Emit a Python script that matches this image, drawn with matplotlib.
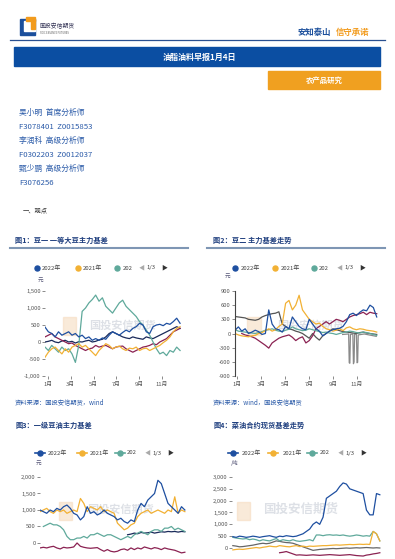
import numpy as np
import matplotlib
matplotlib.use("Agg")
import matplotlib.pyplot as plt
from matplotlib.lines import Line2D
from matplotlib.patches import Rectangle
from matplotlib.ticker import FuncFormatter

plt.rcParams['font.family'] = ['Noto Sans CJK SC', 'DejaVu Sans']

W, H = 395, 559

# ---- data ----
month_ticks = [1, 3, 5, 7, 9, 11]
month_labels = ['1月', '3月', '5月', '7月', '9月', '11月']
legend_labels = ['2022年', '2021年', '202']

c1_2022 = [440, 300, 250, 150, 300, 200, 250, 300, 200, 250, 150, 200, 100, 150, 50, 100, 50, 120, 80, 200,
           300, 250, 200, 280, 350, 300, 400, 450, 550, 500, 300, 250, 450, 500, 520, 480, 550, 520, 600, 700, 550]
c1_2021 = [-450, -300, -200, -150, -250, -350, -200, -300, -150, -100, -50, -150, -100, -200, -300, -400, -250,
           -150, -50, -100, -200, -150, -120, -200, -250, -180, -200, -150, -250, -200, -180, -250, -200, -150,
           -100, -20, 50, 150, 300, 400, 450]
c1_2020 = [-150, -250, -100, -200, -300, -150, -250, -200, -350, -600, -100, 900, 1000, 1150, 1250, 1380, 1200,
           1300, 1050, 950, 850, 1000, 1150, 1230, 1050, 950, 850, 750, 600, 500, 350, 200, 0, -200, -350, -300,
           -400, -250, -300, -150, -250]
c1_2019 = [150, 200, 250, 150, 100, 50, 0, -50, -30, -100, -150, -200, -250, -200, -180, -100, -150, -120, -100,
           -150, -200, -150, -130, -120, -200, -250, -300, -250, -200, -150, -130, -100, -50, -80, 0, 50, 100, 200,
           300, 350, 400]
c1_2018 = [0, 20, 50, 0, -20, 30, 50, 0, 20, -30, 10, 0, 30, 50, 0, 20, 60, 80, 150, 250, 300, 250, 200, 150,
           120, 100, 150, 120, 100, 80, 150, 120, 100, 150, 200, 250, 300, 350, 400, 450, 400]

c2_2022 = [70, 140, 50, 100, 0, 30, 70, 40, -20, 0, 500, 200, 100, 80, 30, 150, 100, 350, 250, 150, 100, 80, 300,
           200, 100, 50, -50, 0, 50, 80, 100, 110, 150, 250, 400, 430, 380, 450, 500, 480, 600, 550, 350]
c2_2021 = [0, -30, -50, -60, -70, -50, -40, 0, 20, 60, 100, 50, 80, 150, 200, 640, 700, 500, 600, 810, 500, 400,
           300, 250, 200, 220, 150, 100, 80, 50, 70, 100, 60, 120, 140, 100, 80, 100, 90, 70, 60, 50, 30]
c2_2020 = [80, 50, 40, 30, 20, 10, 0, 20, 40, 70, 80, 100, 70, 50, 40, 70, 90, 140, 100, 80, 60, 70, 100, 80, 60,
           40, 20, 30, 10, 0, -20, 0, 20, 30, 50, 40, 20, 10, 30, 20, 0, -20, -40]
c2_2019 = [np.nan, np.nan, 0, -30, -50, -70, -100, -150, -200, -250, -310, -200, -150, -100, -70, -50, -30, -80,
           -150, -100, -70, -200, -150, -50, 100, 150, 200, 250, 200, 250, 300, 280, 250, 300, 350, 380, 400, 420,
           450, 400, 450, 430, 420]
c2_2018 = [360, 350, 340, 330, 300, 290, 280, 300, 350, 380, 400, 420, 430, 460, 200, 150, 100, 80, 50, 30, 0, -50,
           -100, 0, -80, -140, -50, 0, 50, 100, 80, 60, 40, 30, 20, 10, 0, 20, 30, 10, 0, -10, -20]
c2_2017_months = [9.8, 10.3, 10.35, 10.4, 10.45, 10.65, 10.7, 10.75, 10.8, 10.95, 11.0, 11.05, 11.1, 11.6, 12.0, 12.6]
c2_2017 = [-20, -10, -620, -630, -20, -10, -640, -600, -10, -20, -620, -610, -30, -10, -30, -60]

c3_2022 = [1000, 950, 900, 1000, 950, 1050, 1000, 1100, 1150, 1050, 900, 850, 700, 800, 1100, 900, 950, 850, 900,
           1000, 900, 850, 800, 700, 750, 650, 600, 700, 650, 1000, 1200, 1100, 1300, 1400, 1500, 1900, 1800, 1500,
           1200, 1100, 1000, 900, 1100, 1000]
c3_2021 = [950, 1000, 1050, 950, 900, 1000, 950, 1000, 900, 950, 1000, 950, 1350, 1200, 950, 1100, 1050, 1000, 1100,
           950, 1000, 950, 900, 600, 500, 400, 450, 550, 600, 800, 900, 950, 1000, 900, 950, 1000, 950, 900, 1000,
           950, 1400, 900, 1000, 950]
c3_2020 = [np.nan, 500, 550, 600, 550, 550, 500, 400, 200, 100, 100, 150, 150, 200, 150, 250, 250, 300, 250, 200,
           250, 250, 200, 150, 100, 150, 200, 150, 250, 300, 350, 300, 250, 350, 400, 400, 350, 450, 450, 500, 400,
           450, 400, 350]
c3_2019 = [-150, -130, -150, -120, -100, -150, -180, -130, -150, -140, -120, 0, -100, -130, -150, -160, -150, -140,
           -200, -250, -200, -250, -270, -250, -200, -180, -220, -150, -200, -150, -180, -120, -150, -180, -140,
           -160, -200, -150, -180, -200, -220, -260, -300, -280]
c3_2018 = [np.nan] * 26 + [250, 270, 300, 280, 320, 300, 310, 330, 300, 320, 340, 330, 350, 340, 350, 330, 350, 340]

c4_2022 = [480, 450, 500, 480, 450, 470, 500, 480, 450, 480, 500, 520, 480, 450, 500, 480, 520, 500, 480, 500, 550,
           600, 700, 800, 1000, 1100, 1000, 1300, 2100, 2200, 2300, 2400, 2600, 2750, 2700, 2500, 2450, 2400, 2350,
           2300, 1600, 1400, 1400, 2300, 2250]
c4_2021 = [-80, -60, -50, -60, -40, -20, 0, 20, 0, 30, 50, 80, 60, 50, 100, 80, 60, 50, 80, 100, 60, 80, 50, 80,
           70, 80, 90, 100, 100, 110, 120, 130, 120, 130, 140, 150, 140, 150, 160, 150, 160, 150, 700, 600, 300]
c4_2020 = [450, 420, 400, 380, 400, 350, 380, 350, 300, 350, 320, 300, 350, 400, 300, 350, 320, 300, 350, 300, 280,
           300, 320, 350, 300, 550, 550, 520, 550, 560, 540, 550, 530, 550, 520, 500, 520, 550, 530, 500, 520, 500,
           700, 600, 300]
c4_2019 = [np.nan] * 14 + [-200, -180, -150, -200, -250, -300, -290, -300, -310, -300, -290, -300, -310, -300, -290,
                           -280, -290, -300, -310, -300, -290, -280, -300, -320, -330, -340, -300, -280, -250, -230,
                           -200]
c4_2018 = [100, 80, 50, 60, 80, 100, 120, 150, 180, 200, 180, 200, 250, 300, 280, 250, 230, 220, 200, 150, 100, 50,
           0, -50, -100, -80, -60, -50, -40, -30, -20, -30, -20, -10, 0, -10, 0, 10, 0, 10, 20, 10, 0, 10, 0]

# colours per series (2022, 2021, 2020, 2019, 2018)
BLUE, ORANGE, TEAL, MAROON, NAVY, GRAY = '#1e4fa0', '#f2b134', '#5fa99b', '#8b2252', '#1a2a5a', '#555555'
BLUE_TXT = '#2a5aa8'
TITLE_C = '#1f3f7f'


def fx(x):
    return x / W


def fy(y):
    return 1 - y / H


def add_axes_px(fig, x0, y0, x1, y1):
    return fig.add_axes([fx(x0), fy(y1), (x1 - x0) / W, (y1 - y0) / H])


def thousands(v, pos):
    return f'{int(v):,}'


fig = plt.figure(figsize=(W / 100, H / 100), dpi=100)
fig.patch.set_facecolor('white')

# ---- header ----
fig.add_artist(Rectangle((fx(20), fy(35)), 15 / W, 16 / H, transform=fig.transFigure, color='#1b4f9c'))
fig.add_artist(Rectangle((fx(24), fy(31)), 11 / W, 10 / H, transform=fig.transFigure, color='white'))
fig.add_artist(Rectangle((fx(26), fy(21)), 9 / W, 4 / H, transform=fig.transFigure, color='#f29b1d'))
fig.add_artist(Rectangle((fx(31), fy(29)), 4 / W, 10 / H, transform=fig.transFigure, color='#f29b1d'))
fig.text(fx(40), fy(26), '国投安信期货', fontsize=4.2, color='#333355', va='center')
fig.text(fx(40), fy(33), 'SDIC ESSENCE FUTURES', fontsize=1.8, color='#555555', va='center')
fig.text(fx(298), fy(32), '安知泰山', fontsize=6, color='#1b4f9c', fontweight='bold', va='center')
fig.text(fx(336), fy(32), '信守承诺', fontsize=6, color='#f29b1d', fontweight='bold', va='center')
fig.add_artist(Line2D([fx(10), fx(385)], [fy(40), fy(40)], transform=fig.transFigure, color='#2a5090', lw=0.9))

fig.add_artist(Rectangle((fx(14), fy(66)), 366 / W, 19 / H, transform=fig.transFigure, color='#0b4ea2'))
fig.text(fx(199), fy(57), '油脂油料早报1月4日', fontsize=5.8, color='white', fontweight='bold',
         ha='center', va='center')
fig.add_artist(Rectangle((fx(268), fy(89)), 112 / W, 18 / H, transform=fig.transFigure, color='#f0a020'))
fig.text(fx(324), fy(80), '农产品研究', fontsize=5.3, color='white', fontweight='bold', ha='center', va='center')

analysts = ['吴小明  首席分析师', 'F3078401  Z0015853', '李润科  高级分析师', 'F0302203  Z0012037',
            '甄少鹏  高级分析师', 'F3076256']
for i, line in enumerate(analysts):
    fig.text(fx(19), fy(113 + i * 14), line, fontsize=5.6, color=BLUE_TXT, va='center')
fig.text(fx(23), fy(210), '一、观点', fontsize=4.5, color='#333333', va='center')


# ---- chart helpers ----
def chart_title(x, y, s, line_x=None):
    fig.text(fx(x), fy(y), s, fontsize=5.2, color=TITLE_C, fontweight='bold', va='center')
    if line_x:
        fig.add_artist(Line2D([fx(line_x[0]), fx(line_x[1])], [fy(y + 8), fy(y + 8)],
                              transform=fig.transFigure, color='#7e96b4', lw=1.5))


def legend_row(y, xs, pager_x, style):
    for (xm, xt), c, lab in zip(xs, [BLUE, ORANGE, TEAL], legend_labels):
        if style == 'line':
            fig.add_artist(Line2D([fx(xm - 5), fx(xm + 5)], [fy(y), fy(y)], transform=fig.transFigure,
                                  color=c, lw=1.2))
        fig.add_artist(Line2D([fx(xm)], [fy(y)], transform=fig.transFigure, marker='o', ms=3.6,
                              color=c, lw=0))
        fig.text(fx(xt), fy(y), lab, fontsize=4.3, color='#444444', va='center')
    fig.text(fx(pager_x), fy(y), '◀', fontsize=4.3, color='#aaaaaa', va='center')
    fig.text(fx(pager_x + 7), fy(y), '1/3', fontsize=4.3, color='#444444', va='center')
    fig.text(fx(pager_x + 22), fy(y), '▶', fontsize=4.3, color='#333333', va='center')


def watermark(ax, x, y, size=8):
    ax.text(x, y, '国投安信期货', transform=ax.transAxes, fontsize=size, color='#d5d9e0',
            alpha=0.8, ha='center', va='center', zorder=0, fontweight='bold')
    ax.add_patch(Rectangle((x - 0.42, y - 0.12), 0.09, 0.22, transform=ax.transAxes,
                           color='#f6dcc0', alpha=0.6, zorder=0))


def style_axes(ax, xlim, ylim, yticks, spine=False, xlabels=True):
    ax.set_xlim(*xlim)
    ax.set_ylim(*ylim)
    ax.set_yticks(yticks)
    ax.yaxis.set_major_formatter(FuncFormatter(thousands))
    for s in ['top', 'right', 'bottom']:
        ax.spines[s].set_visible(False)
    ax.spines['left'].set_visible(spine)
    ax.spines['left'].set_color('#444444')
    ax.spines['left'].set_linewidth(0.8)
    ax.tick_params(axis='y', labelsize=4.2, labelcolor='#555555', length=2, width=0.6, color='#777777', pad=1)
    if xlabels:
        ax.set_xticks(month_ticks)
        ax.set_xticklabels(month_labels)
        ax.tick_params(axis='x', labelsize=4.2, labelcolor='#555555', length=2.5, width=0.6,
                       color='#777777', pad=2, direction='out')
    else:
        ax.set_xticks([])
    ax.set_facecolor('none')


def draw_series(ax, rng, data, cols):
    # older years first so 2022 sits on top
    for vals, c in reversed(list(zip(data, cols))):
        x = np.linspace(rng[0], rng[1], len(vals))
        ax.plot(x, vals, color=c, lw=0.9, zorder=2)


# ---- chart 1 ----
chart_title(15, 240, '图1：豆一 一等大豆主力基差', (10, 188))
legend_row(268, [(37, 42), (78, 83), (117, 123)], 139, 'dot')
fig.text(fx(38), fy(280), '元', fontsize=4, color='#555577', va='center')
ax1 = add_axes_px(fig, 45, 291, 186, 376)
style_axes(ax1, (0.74, 13.1), (-1000, 1500), [-1000, -500, 0, 500, 1000, 1500])
watermark(ax1, 0.55, 0.6)
draw_series(ax1, (0.74, 12.58), [c1_2022, c1_2021, c1_2020, c1_2019, c1_2018],
            [BLUE, ORANGE, TEAL, MAROON, NAVY])
fig.text(fx(15), fy(402), '资料来源：国投安信期货，wind', fontsize=4.5, color=BLUE_TXT, style='italic',
         va='center')

# ---- chart 2 ----
chart_title(213, 240, '图2：豆二 主力基差走势', (207, 385))
legend_row(268, [(235, 241), (275, 281), (314, 319)], 337, 'dot')
fig.text(fx(225), fy(276), '元', fontsize=4, color='#555577', va='center')
ax2 = add_axes_px(fig, 235, 291, 385, 376)
style_axes(ax2, (0.83, 13.33), (-900, 900), [-900, -600, -300, 0, 300, 600, 900], spine=True)
watermark(ax2, 0.5, 0.6)
ax2.plot(c2_2017_months, c2_2017, color='#8a8a8a', lw=0.9, zorder=1)
draw_series(ax2, (0.83, 12.64), [c2_2022, c2_2021, c2_2020, c2_2019, c2_2018],
            [BLUE, ORANGE, TEAL, MAROON, GRAY])
fig.text(fx(213), fy(402), '资料来源：wind，国投安信期货', fontsize=4.5, color=BLUE_TXT, style='italic',
         va='center')

# ---- chart 3 ----
chart_title(15, 425, '图3：一级豆油主力基差')
legend_row(453, [(40, 48), (82, 90), (120, 127)], 145, 'line')
fig.text(fx(36), fy(463), '元', fontsize=4, color='#555577', va='center')
ax3 = add_axes_px(fig, 40, 477, 186, 559)
style_axes(ax3, (0.3, 13.1), (-485, 2000), [0, 500, 1000, 1500, 2000], xlabels=False)
watermark(ax3, 0.55, 0.6)
draw_series(ax3, (0.3, 13.0), [c3_2022, c3_2021, c3_2020, c3_2019, c3_2018],
            [BLUE, ORANGE, TEAL, MAROON, NAVY])

# ---- chart 4 ----
chart_title(213, 425, '图4：菜油合约现货基差走势')
legend_row(453, [(233, 242), (273, 283), (312, 320)], 338, 'line')
fig.text(fx(231), fy(463), '/吨', fontsize=4, color='#555577', va='center')
ax4 = add_axes_px(fig, 232, 477, 385, 559)
style_axes(ax4, (0.6, 13.33), (-465, 3000), [0, 500, 1000, 1500, 2000, 2500, 3000], xlabels=False)
watermark(ax4, 0.45, 0.6, size=9)
draw_series(ax4, (0.67, 12.9), [c4_2022, c4_2021, c4_2020, c4_2019, c4_2018],
            [BLUE, ORANGE, TEAL, MAROON, '#666666'])

fig.savefig('out.png', dpi=100)
